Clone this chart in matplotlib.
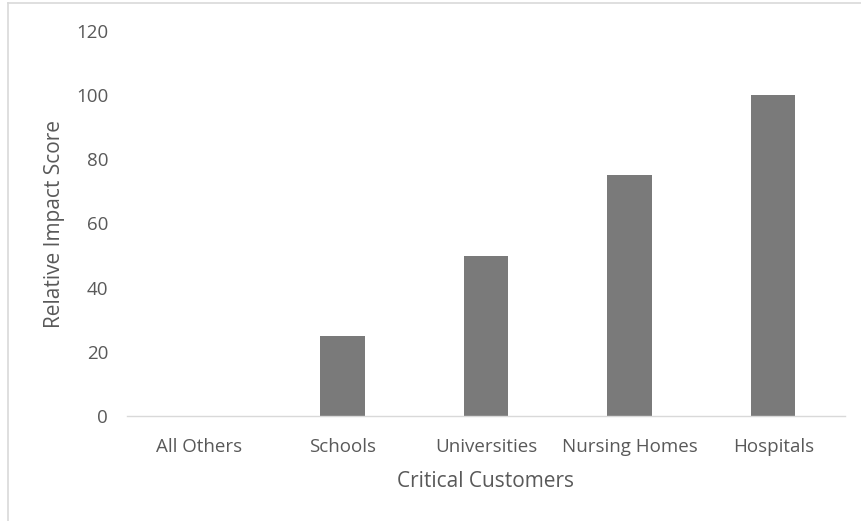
import matplotlib.pyplot as plt
from matplotlib.lines import Line2D

categories = ["All Others", "Schools", "Universities", "Nursing Homes", "Hospitals"]
scores = [0, 25, 50, 75, 100]
y_ticks = [0, 20, 40, 60, 80, 100, 120]

text_color = "#595959"
bar_color = "#7a7a7a"

plt.rcParams["font.family"] = ["Open Sans", "DejaVu Sans"]

fig = plt.figure(figsize=(8.62, 5.21), dpi=100)
ax = fig.add_axes([127 / 862, 1 - 416 / 521, (845 - 127) / 862, (416 - 31) / 521])

ax.bar(range(len(categories)), scores, width=0.31, color=bar_color)
ax.set_xlim(-0.5, len(categories) - 0.5)
ax.set_ylim(0, 120)
ax.set_yticks(y_ticks)
ax.set_xticks(range(len(categories)))
ax.set_xticklabels(categories)

for side in ["top", "right", "left"]:
    ax.spines[side].set_visible(False)
ax.spines["bottom"].set_color("#d9d9d9")
ax.spines["bottom"].set_linewidth(1.0)
ax.tick_params(axis="both", length=0, labelsize=13.5, colors=text_color)
ax.tick_params(axis="y", pad=13.5)
ax.tick_params(axis="x", pad=15.5)

ax.set_xlabel("Critical Customers", fontsize=15, color=text_color, labelpad=11)
ax.set_ylabel("Relative Impact Score", fontsize=15, color=text_color, labelpad=8)

# light frame around the chart area (left and top only visible)
fig.add_artist(Line2D([8.5 / 862, 8.5 / 862], [0, 1 - 3 / 521], color="#d9d9d9", lw=1.2))
fig.add_artist(Line2D([8.5 / 862, 1], [1 - 3 / 521, 1 - 3 / 521], color="#d9d9d9", lw=1.2))

fig.savefig("out.png", dpi=100)
